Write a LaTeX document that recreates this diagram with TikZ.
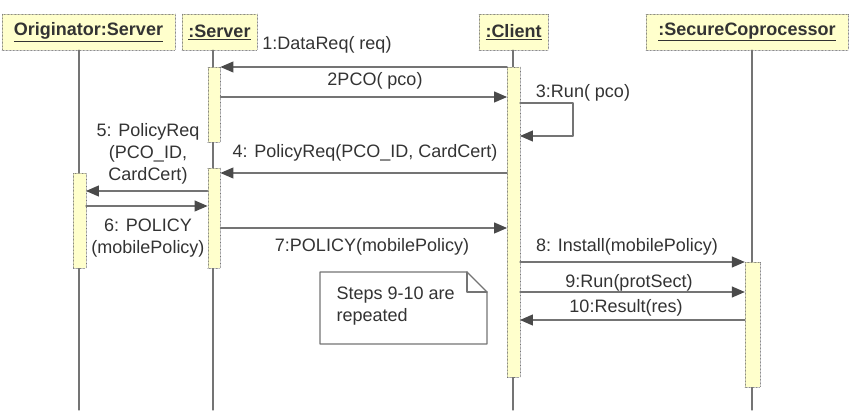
\documentclass[tikz,border=0pt]{standalone}
\usepackage{fontspec}
\setmainfont{Liberation Sans}
\usepackage{tikz}
\usetikzlibrary{arrows.meta}
\definecolor{actfill}{HTML}{FFFFCC}
\definecolor{lineg}{HTML}{747474}
\definecolor{tipg}{HTML}{4A4A4A}
\definecolor{txtg}{HTML}{333333}

\begin{document}
\begin{tikzpicture}[line cap=round,line join=round,>={Triangle[length=13pt,width=11pt,color=tipg]},x=1pt,y=-1pt,
  font=\fontsize{18}{22}\selectfont,text=txtg,
  head/.style={draw=lineg,densely dotted,fill=actfill,inner sep=0pt,minimum height=36pt,font=\fontsize{18}{21}\selectfont\bfseries},
  act/.style={draw=lineg,densely dotted,fill=actfill,inner sep=0pt,minimum width=12.5pt},
  life/.style={draw=lineg,line width=1.2pt},
  msg/.style={draw=lineg,line width=1.2pt,->}]
\useasboundingbox (0,0) rectangle (859,419);
% objects
\node[head,minimum width=173pt] (orig) at (88.5,32) {\underline{Originator:Server}};
\node[head,minimum width=75pt] (srv) at (219.5,32) {\underline{:Server}};
\node[head,minimum width=69pt] (cli) at (513.5,32) {\underline{:Client}};
\node[head,minimum width=202pt] (sec) at (747,32) {\underline{:SecureCoprocessor}};
% lifelines
\coordinate (oL) at (79,0);
\coordinate (sL) at (213,0);
\coordinate (cL) at (513,0);
\coordinate (pL) at (752,0);
\coordinate (bot) at (0,410);
\draw[life] (oL |- orig.south) -- (oL |- bot);
\draw[life] (sL |- srv.south) -- (sL |- bot);
\draw[life] (cL |- cli.south) -- (cL |- bot);
\draw[life] (pL |- sec.south) -- (pL |- bot);
% activations
\node[act,minimum height=75pt] (srvA1) at (214,104.5) {};
\node[act,minimum height=100pt] (srvA2) at (214,218) {};
\node[act,minimum height=95pt] (orgA) at (79.5,220.5) {};
\node[act,minimum height=310pt] (cliA) at (513.5,222) {};
\node[act,minimum height=125pt,minimum width=15pt] (secA) at (752.5,324.5) {};
% messages
\coordinate (y1) at (0,67);
\coordinate (y2) at (0,97);
\coordinate (y3) at (0,103);
\coordinate (y3b) at (0,136);
\coordinate (y4) at (0,173);
\coordinate (y5) at (0,191);
\coordinate (y6) at (0,206);
\coordinate (y7) at (0,228);
\coordinate (y8) at (0,262);
\coordinate (y9) at (0,292);
\coordinate (y10) at (0,320);
\draw[msg] (cliA.west |- y1) -- (srvA1.east |- y1);
\draw[msg] (srvA1.east |- y2) -- (cliA.west |- y2);
\draw[msg] (cliA.east |- y3) -- ++(53,0) -- ++(0,33) -- (cliA.east |- y3b);
\draw[msg] (cliA.west |- y4) -- (srvA2.east |- y4);
\draw[msg] (srvA2.west |- y5) -- (orgA.east |- y5);
\draw[msg] (orgA.east |- y6) -- (srvA2.west |- y6);
\draw[msg] (srvA2.east |- y7) -- (cliA.west |- y7);
\draw[msg] (cliA.east |- y8) -- (secA.west |- y8);
\draw[msg] (cliA.east |- y9) -- (secA.west |- y9);
\draw[msg] (secA.west |- y10) -- (cliA.east |- y10);
% labels
\node (lab1) at (327,45) {1:DataReq( req)};
\node (lab2) at (375,81) {2PCO( pco)};
\node (lab3) at (583,93) {3:Run( pco)};
\node (lab4) at (365,153) {4: PolicyReq(PCO\_ID, CardCert)};
\node[align=center] (lab5) at (148,154) {5: PolicyReq\\(PCO\_ID,\\CardCert)};
\node[align=center] (lab6) at (148,238) {6: POLICY\\(mobilePolicy)};
\node (lab7) at (372,247) {7:POLICY(mobilePolicy)};
\node (lab8) at (627,247) {8: Install(mobilePolicy)};
\node (lab9) at (629,283) {9:Run(protSect)};
\node (lab10) at (626,308) {10:Result(res)};
% note
\draw[draw=lineg,line width=1.2pt,fill=white] (320,272) -- (467,272) -- (487,292) -- (487,344) -- (320,344) -- cycle;
\draw[draw=lineg,line width=1.2pt] (467,272) -- (467,292) -- (487,292);
\node[anchor=west,align=left] (note) at (333,306) {Steps 9-10 are\\repeated};
\end{tikzpicture}
\end{document}
